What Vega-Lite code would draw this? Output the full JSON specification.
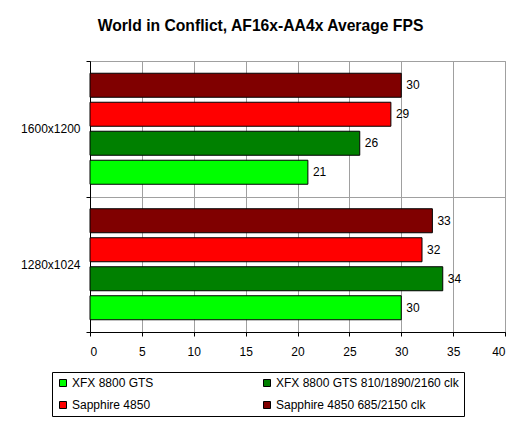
{
  "$schema": "https://vega.github.io/schema/vega-lite/v6.json",
  "width": 415,
  "height": 271,
  "autosize": {"type": "none"},
  "padding": {"left": 90, "top": 61, "right": 24, "bottom": 95},
  "background": "white",
  "title": {
    "text": "World in Conflict, AF16x-AA4x Average FPS",
    "fontSize": 15.7,
    "font": "Liberation Sans",
    "fontWeight": "bold",
    "anchor": "middle",
    "dx": -37,
    "offset": 20,
    "color": "black"
  },
  "data": {
    "values": [
      {"res": "1600x1200", "card": "XFX 8800 GTS", "fps": 21},
      {"res": "1600x1200", "card": "XFX 8800 GTS 810/1890/2160 clk", "fps": 26},
      {"res": "1600x1200", "card": "Sapphire 4850", "fps": 29},
      {"res": "1600x1200", "card": "Sapphire 4850 685/2150 clk", "fps": 30},
      {"res": "1280x1024", "card": "XFX 8800 GTS", "fps": 30},
      {"res": "1280x1024", "card": "XFX 8800 GTS 810/1890/2160 clk", "fps": 34},
      {"res": "1280x1024", "card": "Sapphire 4850", "fps": 32},
      {"res": "1280x1024", "card": "Sapphire 4850 685/2150 clk", "fps": 33}
    ]
  },
  "encoding": {
    "y": {
      "field": "res",
      "type": "nominal",
      "sort": ["1600x1200", "1280x1024"],
      "scale": {"paddingInner": 0, "paddingOuter": 0},
      "axis": {
        "title": null,
        "tickBand": "extent",
        "grid": true,
        "gridColor": {"condition": {"test": "datum.value === '1280x1024'", "value": "black"}, "value": "#a0a0a0"},
        "domainColor": "black",
        "tickColor": "black",
        "tickSize": 4,
        "labelPadding": 6,
        "labelFontSize": 12,
        "labelFont": "Liberation Sans",
        "labelColor": "black"
      }
    },
    "yOffset": {
      "field": "card",
      "type": "nominal",
      "sort": ["Sapphire 4850 685/2150 clk", "Sapphire 4850", "XFX 8800 GTS 810/1890/2160 clk", "XFX 8800 GTS"],
      "scale": {"paddingInner": 0.172, "paddingOuter": 0.422}
    },
    "x": {
      "field": "fps",
      "type": "quantitative",
      "scale": {"domain": [0, 40], "nice": false},
      "axis": {
        "title": null,
        "values": [0, 5, 10, 15, 20, 25, 30, 35, 40],
        "grid": true,
        "gridColor": "#a0a0a0",
        "domainColor": "black",
        "tickColor": "black",
        "tickSize": 4,
        "labelPadding": 10,
        "labelFontSize": 12,
        "labelFont": "Liberation Sans",
        "labelColor": "black"
      }
    }
  },
  "layer": [
    {
      "mark": {"type": "bar", "stroke": "black", "strokeWidth": 1},
      "encoding": {
        "color": {
          "field": "card",
          "type": "nominal",
          "sort": ["XFX 8800 GTS", "Sapphire 4850", "XFX 8800 GTS 810/1890/2160 clk", "Sapphire 4850 685/2150 clk"],
          "scale": {
            "domain": ["XFX 8800 GTS", "Sapphire 4850", "XFX 8800 GTS 810/1890/2160 clk", "Sapphire 4850 685/2150 clk"],
            "range": ["#00ff00", "#ff0000", "#008000", "#800000"]
          },
          "legend": {
            "title": null,
            "orient": "none",
            "legendX": -38,
            "legendY": 311,
            "columns": 2,
            "columnPadding": 107,
            "rowPadding": 10,
            "padding": 5,
            "strokeColor": "black",
            "fillColor": "white",
            "symbolType": "square",
            "symbolSize": 49,
            "symbolStrokeColor": "black",
            "symbolStrokeWidth": 1,
            "symbolOpacity": 1,
            "labelFontSize": 12,
            "labelFont": "Liberation Sans",
            "labelColor": "black",
            "labelOffset": 3,
            "labelLimit": 400
          }
        }
      }
    },
    {
      "mark": {"type": "text", "align": "left", "baseline": "middle", "dx": 5, "fontSize": 12, "font": "Liberation Sans", "color": "black"},
      "encoding": {"text": {"field": "fps", "type": "quantitative"}}
    }
  ],
  "config": {
    "view": {"stroke": "#a0a0a0", "strokeWidth": 1}
  }
}
